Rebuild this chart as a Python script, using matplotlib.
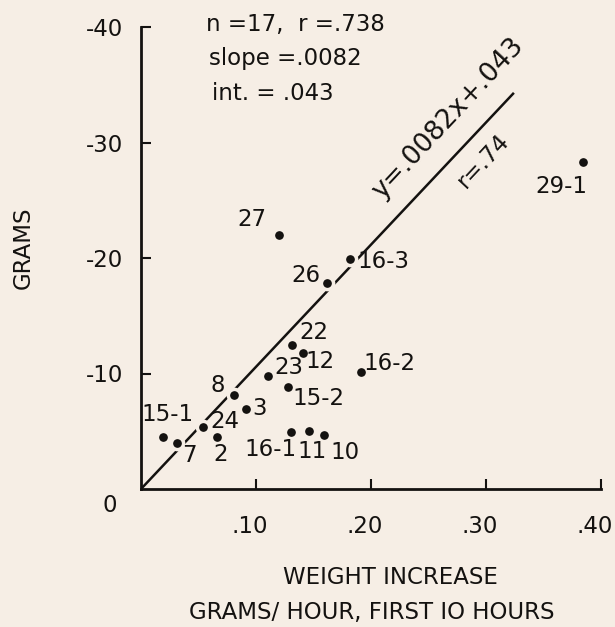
import numpy as np
import matplotlib.pyplot as plt
from matplotlib.transforms import ScaledTranslation

plt.rcParams['axes.unicode_minus'] = False
plt.rcParams['font.family'] = ['DejaVu Sans']

# weight increase (g/hour, first 10 hours) against grams lost, one point per animal
ids = ['15-1', '7', '24', '2', '8', '3', '23', '22', '12', '15-2',
       '16-1', '11', '10', '27', '26', '16-3', '16-2', '29-1']
rate = [0.019, 0.031, 0.054, 0.066, 0.081, 0.091, 0.110, 0.131, 0.141, 0.128,
        0.130, 0.146, 0.159, 0.120, 0.162, 0.182, 0.191, 0.384]
grams = [-4.5, -4.0, -5.4, -4.5, -8.1, -6.9, -9.8, -12.5, -11.8, -8.8,
         -4.9, -5.0, -4.7, -22.0, -17.8, -19.9, -10.1, -28.3]

# regression figures printed on the plot
n_obs = 17
r_val = 0.738
slope = 0.0082
intercept = 0.043
line_top = 34.3   # grams where the drawn line stops

xticks = [0.10, 0.20, 0.30, 0.40]
yticks = [-10, -20, -30, -40]

# label offsets in pixels (right, down) from each dot
offsets = {
    '15-1': (5, -23), '7': (13, 13), '24': (22, -5), '2': (4, 17),
    '8': (-16, -10), '3': (14, -1), '23': (21, -8), '22': (22, -12),
    '12': (17, 9), '15-2': (30, 11), '16-1': (-20, 17), '11': (3, 20),
    '10': (21, 18), '27': (-27, -15), '26': (-21, -8), '16-3': (33, 2),
    '16-2': (29, -9), '29-1': (-21, 24),
}

bg = '#f6eee5'
ink = '#141210'
fs = 16.5

fig = plt.figure(figsize=(6.15, 6.27), dpi=100, facecolor=bg)
ax = fig.add_axes([141 / 615, 1 - 489 / 627, 460 / 615, 462 / 627])
ax.set_facecolor(bg)

ax.set_xlim(0, 0.40)
ax.set_ylim(0, -40)

for side in ['top', 'right']:
    ax.spines[side].set_visible(False)
for side in ['left', 'bottom']:
    ax.spines[side].set_linewidth(2.0)
    ax.spines[side].set_color(ink)

ax.set_xticks(xticks)
ax.set_xticklabels(['.%02d' % round(t * 100) for t in xticks])
ax.set_yticks(yticks)
ax.set_yticklabels([str(t) for t in yticks])
ax.tick_params(axis='x', direction='in', length=7, width=1.5, pad=19,
               labelsize=fs, colors=ink)
ax.tick_params(axis='y', direction='in', length=7, width=1.5, pad=13,
               labelsize=fs, colors=ink)

# nudge the x labels left so the digits sit under the ticks
shift = ScaledTranslation(-6 / 100, 0, fig.dpi_scale_trans)
for lab in ax.get_xticklabels():
    lab.set_transform(lab.get_transform() + shift)

# regression line from the origin out to line_top
x_end = slope * line_top + intercept
ax.plot([0, x_end], [0, -line_top], color=ink, lw=1.8, zorder=2,
        solid_capstyle='butt')

ax.plot(rate, grams, 'o', ms=8.8, mfc=ink, mec=bg, mew=2.5, zorder=3)

for name, x, y in zip(ids, rate, grams):
    dx, dy = offsets[name]
    ax.annotate(name, (x, y), xytext=(dx, -dy), textcoords='offset pixels',
                ha='center', va='center', fontsize=fs, color=ink)

ax.text(0.267, -32.1, 'y=.0082x+.043', rotation=47, rotation_mode='anchor',
        ha='center', va='center', fontsize=19, color=ink)
ax.text(0.298, -28.4, 'r=.74', rotation=47, rotation_mode='anchor',
        ha='center', va='center', fontsize=fs, color=ink)

stats = ['n =%d,  r =.%03d' % (n_obs, round(r_val * 1000)),
         'slope =.%04d' % round(slope * 10000),
         'int. = .%03d' % round(intercept * 1000)]
for i, line in enumerate(stats):
    fig.text((206 + 3 * i) / 615, 1 - (25 + 34 * i) / 627, line,
             ha='left', va='center', fontsize=fs, color=ink)

fig.text(110 / 615, 1 - 505 / 627, '0', ha='center', va='center',
         fontsize=fs, color=ink)
fig.text(23 / 615, 1 - 248 / 627, 'GRAMS', rotation=90, ha='center',
         va='center', fontsize=fs, color=ink)
fig.text(390 / 615, 1 - 578 / 627, 'WEIGHT INCREASE', ha='center',
         va='center', fontsize=fs, color=ink)
fig.text(372 / 615, 1 - 612 / 627, 'GRAMS/ HOUR, FIRST IO HOURS',
         ha='center', va='center', fontsize=fs, color=ink)

fig.savefig('out.png', dpi=100, facecolor=bg)
